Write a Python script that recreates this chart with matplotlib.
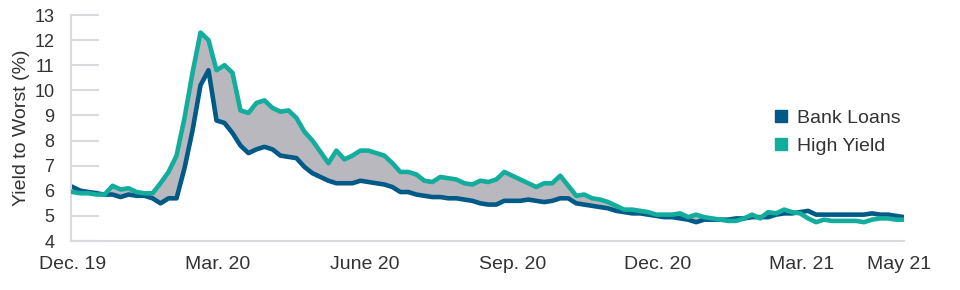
import matplotlib.pyplot as plt
import pandas as pd

plt.rcParams['font.family'] = ['Liberation Sans', 'DejaVu Sans']

# data every 5 days, Dec. 2019 -> May 2021
dates = pd.date_range('2019-12-01', periods=105, freq='5D')

bank_loans = [6.15, 6.0, 5.95, 5.9, 5.85, 5.85, 5.75, 5.85, 5.8, 5.8,
              5.7, 5.5, 5.7, 5.7, 6.9, 8.4, 10.2, 10.8, 8.8, 8.7,
              8.3, 7.8, 7.5, 7.65, 7.75, 7.65, 7.4, 7.35, 7.3, 6.95,
              6.7, 6.55, 6.4, 6.3, 6.3, 6.3, 6.4, 6.35, 6.3, 6.25,
              6.15, 5.95, 5.95, 5.85, 5.8, 5.75, 5.75, 5.7, 5.7, 5.65,
              5.6, 5.5, 5.45, 5.45, 5.6, 5.6, 5.6, 5.65, 5.6, 5.55,
              5.6, 5.7, 5.7, 5.5, 5.45, 5.4, 5.35, 5.3, 5.2, 5.15,
              5.1, 5.1, 5.05, 5.0, 4.95, 4.95, 4.9, 4.85, 4.75, 4.85,
              4.85, 4.85, 4.85, 4.9, 4.9, 4.95, 4.95, 4.95, 5.05, 5.1,
              5.1, 5.15, 5.2, 5.05, 5.05, 5.05, 5.05, 5.05, 5.05, 5.05,
              5.1, 5.05, 5.05, 5.0, 4.95]

high_yield = [5.95, 5.9, 5.9, 5.85, 5.85, 6.2, 6.05, 6.1, 5.95, 5.9,
              5.9, 6.3, 6.75, 7.4, 8.9, 10.7, 12.3, 12.0, 10.8, 11.0,
              10.7, 9.2, 9.1, 9.5, 9.6, 9.3, 9.15, 9.2, 8.9, 8.35,
              8.0, 7.55, 7.1, 7.6, 7.25, 7.4, 7.6, 7.6, 7.5, 7.4,
              7.1, 6.75, 6.75, 6.65, 6.4, 6.35, 6.55, 6.5, 6.45, 6.3,
              6.25, 6.4, 6.35, 6.45, 6.75, 6.6, 6.45, 6.3, 6.15, 6.3,
              6.3, 6.6, 6.2, 5.8, 5.85, 5.7, 5.65, 5.55, 5.4, 5.25,
              5.25, 5.2, 5.15, 5.05, 5.05, 5.05, 5.1, 4.95, 5.05, 4.95,
              4.9, 4.85, 4.8, 4.8, 4.9, 5.05, 4.9, 5.15, 5.1, 5.25,
              5.15, 5.1, 4.9, 4.75, 4.85, 4.8, 4.8, 4.8, 4.8, 4.75,
              4.85, 4.9, 4.9, 4.85, 4.85]

tick_dates = ['2019-12-01', '2020-03-01', '2020-06-01', '2020-09-01',
              '2020-12-01', '2021-03-01', '2021-05-01']
tick_labels = ['Dec. 19', 'Mar. 20', 'June 20', 'Sep. 20', 'Dec. 20', 'Mar. 21', 'May 21']

blue = '#005a87'
teal = '#12ad9c'
text_col = '#333333'
axis_col = '#d9d9de'

fig = plt.figure(figsize=(9.6, 2.9), dpi=100)
ax = fig.add_axes([71/960, 49/290, 833/960, 226/290])

bl = pd.Series(bank_loans, index=dates)
hy = pd.Series(high_yield, index=dates)

ax.fill_between(dates, bl, hy, where=hy > bl, interpolate=True,
                color='#b9b8be', linewidth=0, zorder=1)
ax.plot(dates, bl, color=blue, lw=3.3, zorder=2, solid_joinstyle='round')
ax.plot(dates, hy, color=teal, lw=3.3, zorder=3, solid_joinstyle='round')

ax.set_xlim(dates[0] - pd.Timedelta(days=1), dates[-1])
ax.set_ylim(4, 13)
ax.set_yticks(range(4, 14))
ax.set_xticks(pd.to_datetime(tick_dates))
ax.set_xticklabels(tick_labels)

for s in ['top', 'right']:
    ax.spines[s].set_visible(False)
for s in ['left', 'bottom']:
    ax.spines[s].set_color(axis_col)
    ax.spines[s].set_linewidth(1.5)

ax.tick_params(axis='y', direction='in', length=20, width=1.5, color=axis_col,
               labelsize=13, labelcolor=text_col, pad=12)
ax.tick_params(axis='x', length=0, labelsize=14, labelcolor=text_col, pad=11)
ax.set_ylabel('Yield to Worst (%)', fontsize=14, color=text_col, labelpad=3)

h1 = plt.Line2D([], [], marker='s', ls='', color=blue, markersize=8)
h2 = plt.Line2D([], [], marker='s', ls='', color=teal, markersize=8)
leg = ax.legend([h1, h2], ['Bank Loans', 'High Yield'], loc='upper left',
                bbox_to_anchor=(0.82, 0.66), frameon=False, fontsize=14,
                handletextpad=0.3, handlelength=1.0, labelspacing=0.55,
                labelcolor=text_col)

fig.savefig('out.png', dpi=100)
